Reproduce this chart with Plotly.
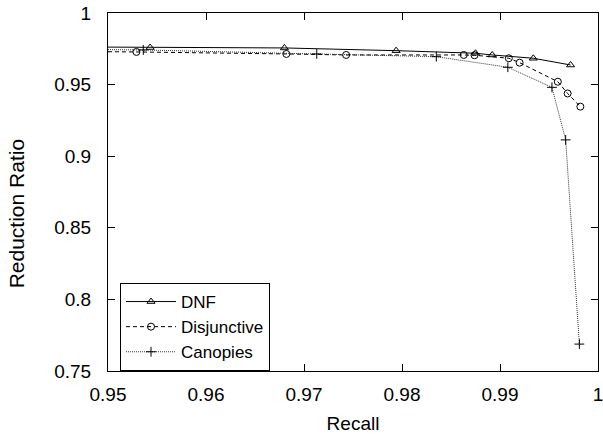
import plotly.graph_objects as go

# ---- data ----
dnf_recall = [0.9400, 0.9543, 0.9680, 0.9794, 0.9875, 0.9892, 0.9934, 0.9972]
dnf_ratio = [0.9765, 0.9759, 0.9756, 0.9737, 0.9719, 0.9707, 0.9684, 0.9637]

disj_recall = [0.9400, 0.9529, 0.9682, 0.9743, 0.9863, 0.9874, 0.9909, 0.9920, 0.9959, 0.9969, 0.9982]
disj_ratio = [0.9735, 0.9728, 0.9714, 0.9707, 0.9707, 0.9705, 0.9684, 0.9653, 0.9520, 0.9438, 0.9346]

can_recall = [0.9400, 0.9536, 0.9713, 0.9835, 0.9908, 0.9953, 0.9967, 0.9981]
can_ratio = [0.9750, 0.9742, 0.9714, 0.9695, 0.9621, 0.9481, 0.9114, 0.7688]

x_ticks = [0.95, 0.96, 0.97, 0.98, 0.99, 1.0]
x_tick_labels = ["0.95", "0.96", "0.97", "0.98", "0.99", "1"]
y_ticks = [0.75, 0.8, 0.85, 0.9, 0.95, 1.0]
y_tick_labels = ["0.75", "0.8", "0.85", "0.9", "0.95", "1"]

FONT = "Liberation Sans, Arial, Helvetica, sans-serif"

fig = go.Figure()
fig.add_trace(go.Scatter(
    x=dnf_recall, y=dnf_ratio, name="DNF", mode="lines+markers",
    line=dict(color="black", width=1, dash="solid"),
    marker=dict(symbol="triangle-up-open", size=7, color="black",
                line=dict(color="black", width=1)),
))
fig.add_trace(go.Scatter(
    x=disj_recall, y=disj_ratio, name="Disjunctive", mode="lines+markers",
    line=dict(color="black", width=1, dash="4px,3px"),
    marker=dict(symbol="circle-open", size=7, color="black",
                line=dict(color="black", width=1)),
))
fig.add_trace(go.Scatter(
    x=can_recall, y=can_ratio, name="Canopies", mode="lines+markers",
    line=dict(color="#333333", width=1, dash="1px,1px"),
    marker=dict(symbol="cross-thin-open", size=7, color="black",
                line=dict(color="black", width=1)),
))

axis_common = dict(
    showline=True, linecolor="black", linewidth=1, mirror="ticks",
    ticks="inside", ticklen=7, tickcolor="black", tickwidth=1,
    showgrid=False, zeroline=False, automargin=False,
    ticklabeloverflow="allow",
    tickfont=dict(family=FONT, size=19, color="black"),
)

fig.update_xaxes(
    range=[0.95, 1.0], tickvals=x_ticks, ticktext=x_tick_labels,
    ticklabelstandoff=6,
    title=dict(text="Recall", font=dict(family=FONT, size=19, color="black"), standoff=13),
    **axis_common,
)
fig.update_yaxes(
    range=[0.75, 1.0], tickvals=y_ticks, ticktext=y_tick_labels,
    ticklabelstandoff=12,
    **axis_common,
)

# y-axis title placed as a rotated annotation (sits slightly below the plot centre)
fig.add_annotation(
    text="Reduction Ratio", textangle=-90, showarrow=False,
    xref="paper", yref="paper", x=-0.186, y=0.44,
    xanchor="center", yanchor="middle",
    font=dict(family=FONT, size=21, color="black"),
)

fig.update_layout(
    width=603, height=434,
    margin=dict(l=108, r=5, t=13, b=63),
    paper_bgcolor="white", plot_bgcolor="white",
    font=dict(family=FONT, size=19, color="black"),
    showlegend=True,
    legend=dict(
        x=0.0245, y=0.0, xanchor="left", yanchor="bottom",
        bordercolor="black", borderwidth=1, bgcolor="white",
        font=dict(family=FONT, size=17, color="black"),
        tracegroupgap=0, itemwidth=50,
    ),
)

fig.write_html("out.html", config={"displayModeBar": False},
               post_script="document.body.style.margin='0';")
